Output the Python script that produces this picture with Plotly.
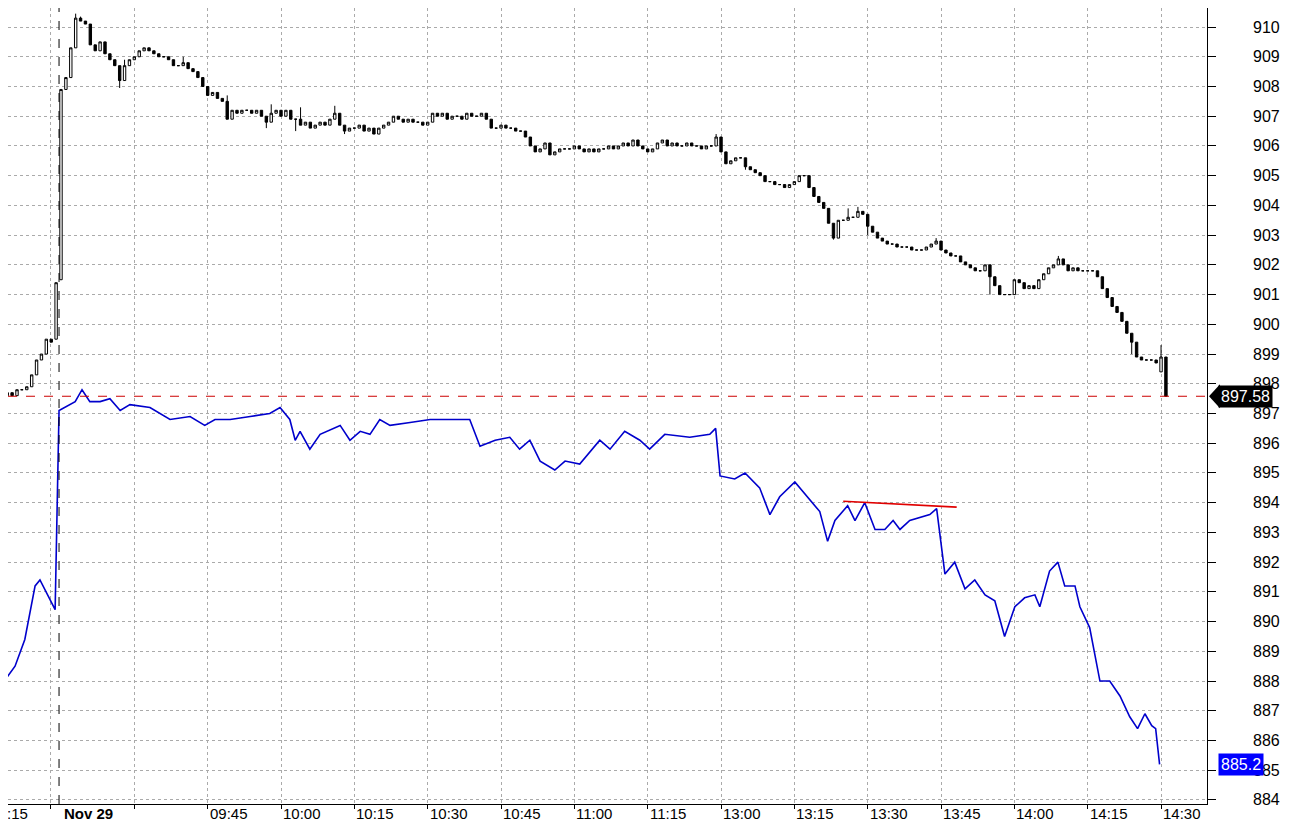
import plotly.graph_objects as go

# minute index t: t=0 is 09:15 session start on Nov 29 (lunch 11:30-13:00 skipped)
candle_start = -12
closes = [897.6,897.7,897.6,897.8,897.8,897.9,898.3,898.8,899.0,899.5,899.4,901.4,
 907.9,908.3,909.3,910.3,910.2,910.1,909.4,909.2,909.5,909.1,
 908.9,908.7,908.2,908.7,908.9,909.0,909.2,909.3,909.2,909.1,
 909.0,909.0,908.9,908.7,908.7,908.8,908.6,908.5,908.3,908.0,
 907.7,907.8,907.6,907.5,906.9,907.2,907.1,907.2,907.2,907.1,
 907.2,907.0,906.8,907.1,907.2,907.0,907.2,906.9,906.9,906.7,
 906.8,906.6,906.7,906.8,906.7,906.9,907.1,906.7,906.5,906.6,
 906.6,906.7,906.5,906.6,906.4,906.6,906.7,906.8,907.0,906.9,
 906.8,906.9,906.8,906.8,906.7,906.8,907.1,907.0,907.1,906.9,
 907.0,907.0,906.9,907.1,907.0,907.0,907.1,906.9,906.6,906.6,
 906.7,906.6,906.6,906.5,906.5,906.3,906.0,905.8,905.9,906.1,
 905.7,905.8,905.9,905.9,905.9,906.0,905.9,905.8,905.9,905.8,
 905.9,905.9,906.0,905.9,906.0,906.1,906.0,906.2,906.0,905.9,
 905.8,905.9,906.1,906.2,906.0,906.1,906.0,906.0,906.1,906.0,
 906.0,905.9,906.0,906.0,906.3,905.8,905.4,905.5,905.6,905.6,
 905.3,905.2,905.1,905.0,904.8,904.8,904.7,904.7,904.6,904.7,
 904.8,905.0,905.0,904.6,904.3,904.1,903.9,903.4,902.9,903.5,
 903.5,903.6,903.6,903.8,903.7,903.3,903.1,902.9,902.8,902.7,
 902.7,902.6,902.6,902.6,902.5,902.5,902.5,902.6,902.7,902.8,
 902.5,902.4,902.3,902.3,902.1,902.0,901.9,901.8,901.8,902.0,
 901.6,901.3,901.0,901.0,901.0,901.5,901.4,901.2,901.3,901.2,
 901.5,901.7,901.9,902.0,902.2,902.0,901.8,901.9,901.8,901.8,
 901.8,901.8,901.6,901.2,900.9,900.6,900.4,900.1,899.7,899.4,
 898.9,898.8,898.8,898.8,898.7,898.9,897.58]
first_open = 897.5
special_opens = {-1: 899.5, 0: 901.5, 225: 898.4, 226: 898.9}
wick_high = {3: 910.45, 4: 910.35, 12: 908.6, 13: 908.9, 25: 909.0, 34: 907.7, 43: 907.4,
             49: 907.3, 56: 907.35, 100: 906.1, 134: 906.4, 161: 903.9, 163: 903.95,
             179: 902.9, 204: 902.3, 220: 899.3, 225: 899.3}
wick_low = {12: 907.95, 13: 908.3, 42: 906.6, 48: 906.5, 58: 906.4, 140: 905.2,
            158: 902.85, 165: 903.0, 190: 901.0, 219: 899.0}

line_t = [-12.5,-9.4,-7.4,-5.3,-4.3,-2.7,-1.2,-0.4,0.8,2.9,4.3,5.9,8.0,10.0,12.1,14.1,18.2,22.3,26.4,
 29.4,31.5,34.6,38.7,42.7,44.8,46.8,47.9,48.9,50.9,53.0,57.1,59.1,61.2,63.2,65.2,67.3,71.4,75.5,
 79.6,83.6,85.7,88.8,91.8,93.8,95.9,98.0,101.0,103.1,106.1,110.2,112.3,115.3,118.4,120.4,123.5,
 128.6,132.7,133.9,134.8,137.8,139.9,142.9,145.0,147.0,150.1,153.2,155.2,156.8,158.3,160.9,
 162.4,164.4,166.5,168.5,170.2,171.6,173.6,177.7,179.1,180.8,182.8,184.9,186.9,189.0,191.0,
 193.0,195.1,197.1,199.2,200.2,202.2,203.9,205.3,207.4,208.4,210.4,212.5,214.5,216.6,218.6,
 220.2,221.7,223.1,223.9,224.7]
line_v = [887.8,888.5,889.4,891.2,891.4,890.9,890.4,897.1,897.2,897.4,897.8,897.4,897.4,897.5,897.1,
 897.3,897.2,896.8,896.9,896.6,896.8,896.8,896.9,897.0,897.2,896.8,896.1,896.4,895.8,896.3,
 896.6,896.1,896.4,896.3,896.8,896.6,896.7,896.8,896.8,896.8,895.9,896.1,896.2,895.8,896.1,
 895.4,895.1,895.4,895.3,896.1,895.8,896.4,896.1,895.8,896.3,896.2,896.3,896.5,894.9,894.8,
 895.0,894.5,893.6,894.2,894.7,894.1,893.7,892.7,893.4,893.9,893.4,894.0,893.1,893.1,893.4,
 893.1,893.4,893.6,893.8,891.6,892.0,891.1,891.4,890.9,890.7,889.5,890.5,890.8,890.9,890.5,
 891.7,892.0,891.2,891.2,890.5,889.8,888.0,888.0,887.5,886.8,886.4,886.9,886.5,886.4,885.2]

last_close = 897.58
last_line = 885.2
red_seg_t = [160.0, 183.2]
red_seg_v = [894.05, 893.85]
grid_t = [-2.2, 15, 30, 45, 60, 75, 90, 105, 120, 135, 150, 165, 180, 195, 210, 225]
label_t = [30, 45, 60, 75, 90, 105, 120, 135, 150, 165, 180, 195, 210, 225]
label_txt = ["09:45","10:00","10:15","10:30","10:45","11:00","11:15","13:00","13:15","13:30",
             "13:45","14:00","14:15","14:30"]
price_ticks = list(range(884, 912))

t_vals = list(range(candle_start, candle_start + len(closes)))
opens, highs, lows = [], [], []
prev = first_open
for t, c in zip(t_vals, closes):
    o = special_opens.get(t, prev)
    opens.append(o)
    highs.append(max(o, c, wick_high.get(t, 0)))
    lows.append(min(o, c, wick_low.get(t, 1e9)))
    prev = c

PW = 1199  # plot width in px
FONT = "Liberation Sans"
fig = go.Figure()
fig.add_trace(go.Candlestick(x=t_vals, open=opens, high=highs, low=lows, close=closes,
    increasing=dict(line=dict(color="black", width=1), fillcolor="white"),
    decreasing=dict(line=dict(color="black", width=1), fillcolor="black"),
    whiskerwidth=0, showlegend=False, hoverinfo="skip"))
fig.add_trace(go.Scatter(x=line_t, y=line_v, mode="lines", line=dict(color="#0000cc", width=1.6),
                         showlegend=False, hoverinfo="skip"))
fig.add_trace(go.Scatter(x=red_seg_t, y=red_seg_v, mode="lines", line=dict(color="#e00000", width=1.6),
                         showlegend=False, hoverinfo="skip"))

fig.add_shape(type="line", xref="paper", x0=0, x1=1, y0=last_close, y1=last_close,
              line=dict(color="#cc0000", width=1, dash="dash"))
fig.add_shape(type="line", x0=-0.4, x1=-0.4, yref="paper", y0=0, y1=1,
              line=dict(color="black", width=1, dash="dash"))

for p in price_ticks:
    fig.add_annotation(xref="paper", x=1243 / PW, xanchor="left", y=p, text=str(p), showarrow=False,
                       font=dict(size=16, family=FONT, color="black"))

# price tags
fig.add_shape(type="path", xref="paper", yref="y",
              path=f"M {1201/PW} {last_close} L {1212/PW} {last_close+0.4} L {1212/PW} {last_close-0.4} Z",
              fillcolor="black", line=dict(width=0))
fig.add_annotation(xref="paper", x=1210 / PW, xanchor="left", y=last_close, text="897.58", showarrow=False,
                   bgcolor="black", font=dict(color="white", size=16, family=FONT), borderpad=2)
fig.add_annotation(xref="paper", x=1210 / PW, xanchor="left", y=last_line, text="885.2", showarrow=False,
                   bgcolor="#0000ff", font=dict(color="white", size=16, family=FONT), borderpad=2)

for t, s in zip(label_t, label_txt):
    fig.add_annotation(x=t, xanchor="left", yref="paper", y=0, yanchor="middle", yshift=-9, text=s,
                       showarrow=False, font=dict(size=15, family=FONT, color="black"))
fig.add_annotation(x=0.3, xanchor="left", yref="paper", y=0, yanchor="middle", yshift=-9, text="<b>Nov 29</b>",
                   showarrow=False, font=dict(size=15, family=FONT, color="black"))
fig.add_annotation(xref="paper", x=0, xanchor="left", xshift=-3, yref="paper", y=0, yanchor="middle",
                   yshift=-9, text=":15", showarrow=False, font=dict(size=15, family=FONT, color="black"))

fig.update_layout(width=1283, height=813, margin=dict(l=0, r=84, t=0, b=17),
                  paper_bgcolor="white", plot_bgcolor="white",
                  font=dict(family=FONT, size=16, color="black"))
fig.update_xaxes(range=[-10.84, 234.4], tickvals=grid_t, showticklabels=False, showgrid=True,
                 gridcolor="#aaaaaa", griddash="dot", gridwidth=1, zeroline=False,
                 rangeslider=dict(visible=False), showline=True, linecolor="black",
                 ticks="outside", ticklen=4, tickcolor="black")
fig.update_yaxes(range=[883.865, 910.64], side="right", dtick=1, showgrid=True, gridcolor="#aaaaaa",
                 griddash="dot", zeroline=False, showline=True, linecolor="black", ticks="outside",
                 ticklen=8, tickcolor="black", showticklabels=False)
fig.write_html("out.html")
